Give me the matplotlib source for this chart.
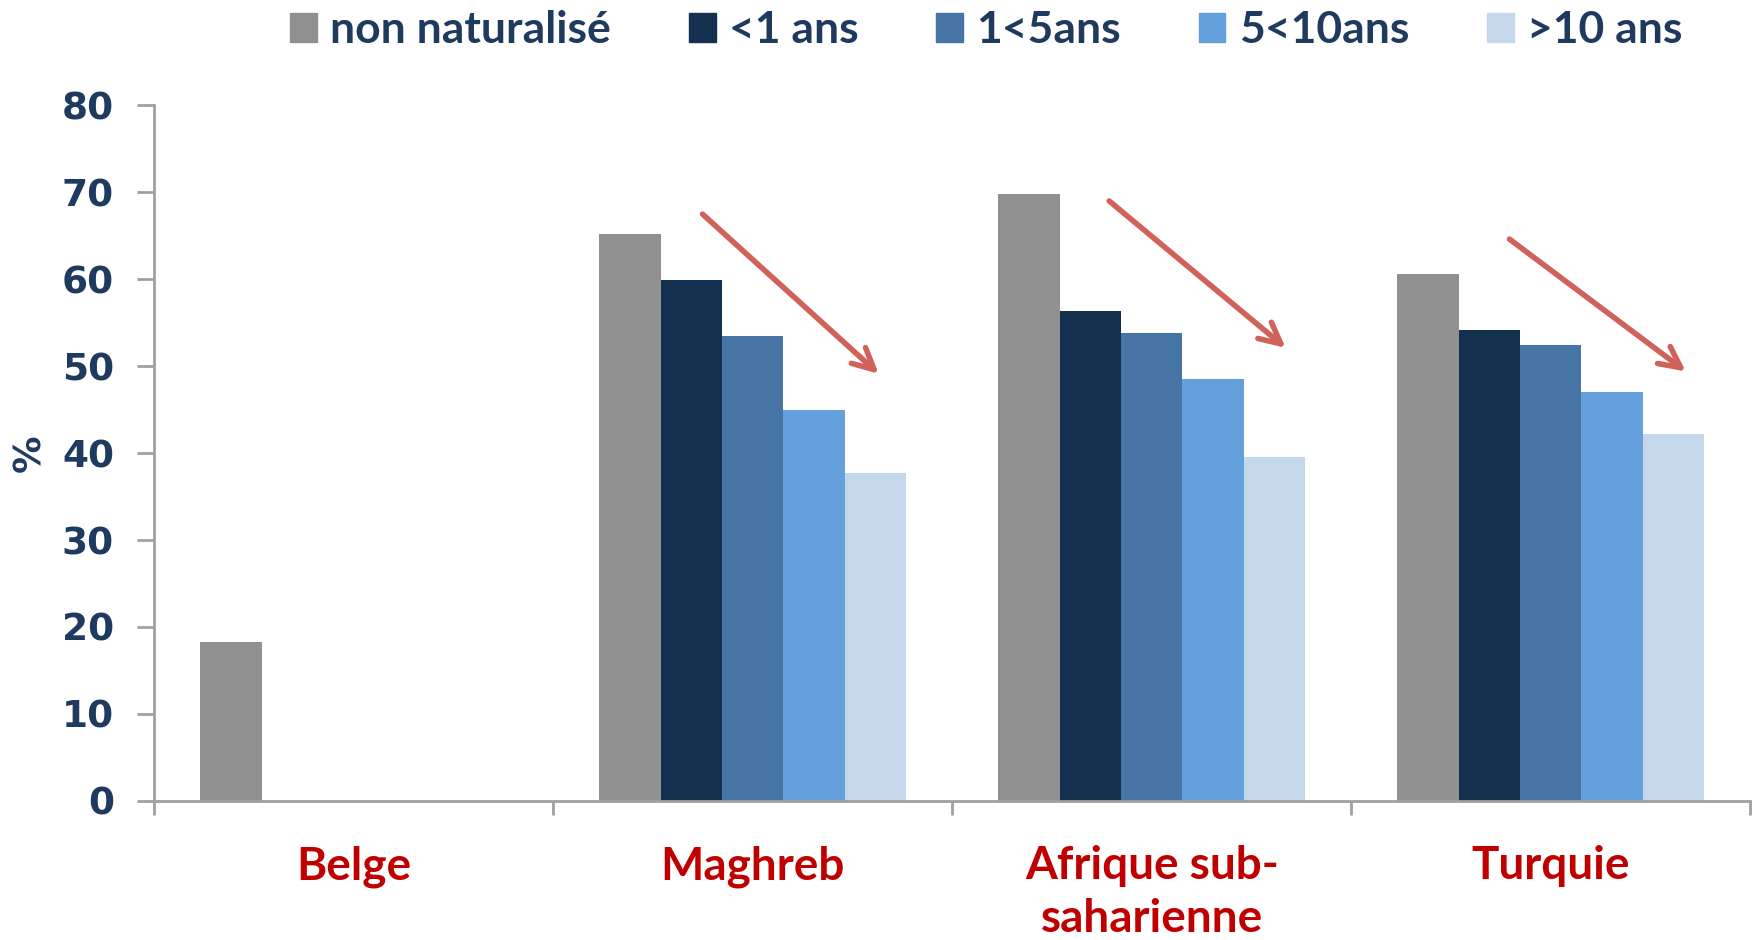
import matplotlib.pyplot as plt
import numpy as np
from matplotlib.patches import Patch

# données (%)
categories = ['Belge', 'Maghreb', 'Afrique sub-\nsaharienne', 'Turquie']
series = ['non naturalisé', '<1 ans', '1<5ans', '5<10ans', '>10 ans']
non_nat = [18.3, 65.2, 69.8, 60.6]
moins1 = [np.nan, 59.9, 56.3, 54.1]
de1a5 = [np.nan, 53.5, 53.8, 52.4]
de5a10 = [np.nan, 44.9, 48.5, 47.0]
plus10 = [np.nan, 37.7, 39.6, 42.2]

# flèches (début -> fin) en coordonnées des données
arrow_start = [(0.869, 67.7), (1.888, 69.2), (2.891, 64.8)]
arrow_end = [(1.321, 48.9), (2.341, 51.9), (3.344, 49.2)]

colors = ['#909090', '#14304f', '#4674a5', '#64a0dc', '#c4d7eb']
txt_color = '#1f3a5f'
red = '#c00000'

fig = plt.figure(figsize=(17.52, 9.4), dpi=100)
ax = fig.add_axes([0.088, 0.148, 0.911, 0.74])

values = [non_nat, moins1, de1a5, de5a10, plus10]
x = np.arange(len(categories))
w = 1 / 6.5
for i, vals in enumerate(values):
    ax.bar(x + (i - 2) * w, vals, w, color=colors[i], label=series[i])

for s, e in zip(arrow_start, arrow_end):
    ax.annotate('', xy=e, xytext=s,
                arrowprops=dict(arrowstyle='->', color='#d0625a', lw=4, mutation_scale=38))

ax.set_xlim(-0.5, 3.5)
ax.set_ylim(0, 80)
ax.set_yticks(range(0, 81, 10))
for sp in ['top', 'right']:
    ax.spines[sp].set_visible(False)
for sp in ['left', 'bottom']:
    ax.spines[sp].set_color('#a0a0a0')
    ax.spines[sp].set_linewidth(2)

# graduations aux limites des catégories, étiquettes au centre
ax.set_xticks(np.arange(-0.5, 3.6, 1))
ax.set_xticklabels([])
ax.tick_params(axis='x', which='major', length=10, width=2, color='#a0a0a0')
ax.set_xticks(x, minor=True)
ax.set_xticklabels(categories, minor=True, fontsize=33, fontweight='bold',
                   color=red, family='Lato', linespacing=1.32)
ax.tick_params(axis='x', which='minor', length=0, pad=32)
for lab in ax.get_xticklabels(minor=True):
    lab.set_verticalalignment('top')

ax.tick_params(axis='y', length=12, width=2, color='#a0a0a0', pad=17)
for lab in ax.get_yticklabels():
    lab.set_fontsize(27)
    lab.set_fontweight('bold')
    lab.set_color(txt_color)

ax.set_ylabel('%', fontsize=27, fontweight='bold', color=txt_color, labelpad=10)

handles = [Patch(color=c) for c in colors]
fig.legend(handles, series, loc='center', bbox_to_anchor=(0.563, 0.968), ncol=5,
           frameon=False, prop={'family': 'Lato', 'weight': 'bold', 'size': 32},
           handlelength=0.6, handleheight=0.6, handletextpad=0.3, columnspacing=1.75,
           labelcolor=txt_color)

fig.savefig('out.png', dpi=100)
